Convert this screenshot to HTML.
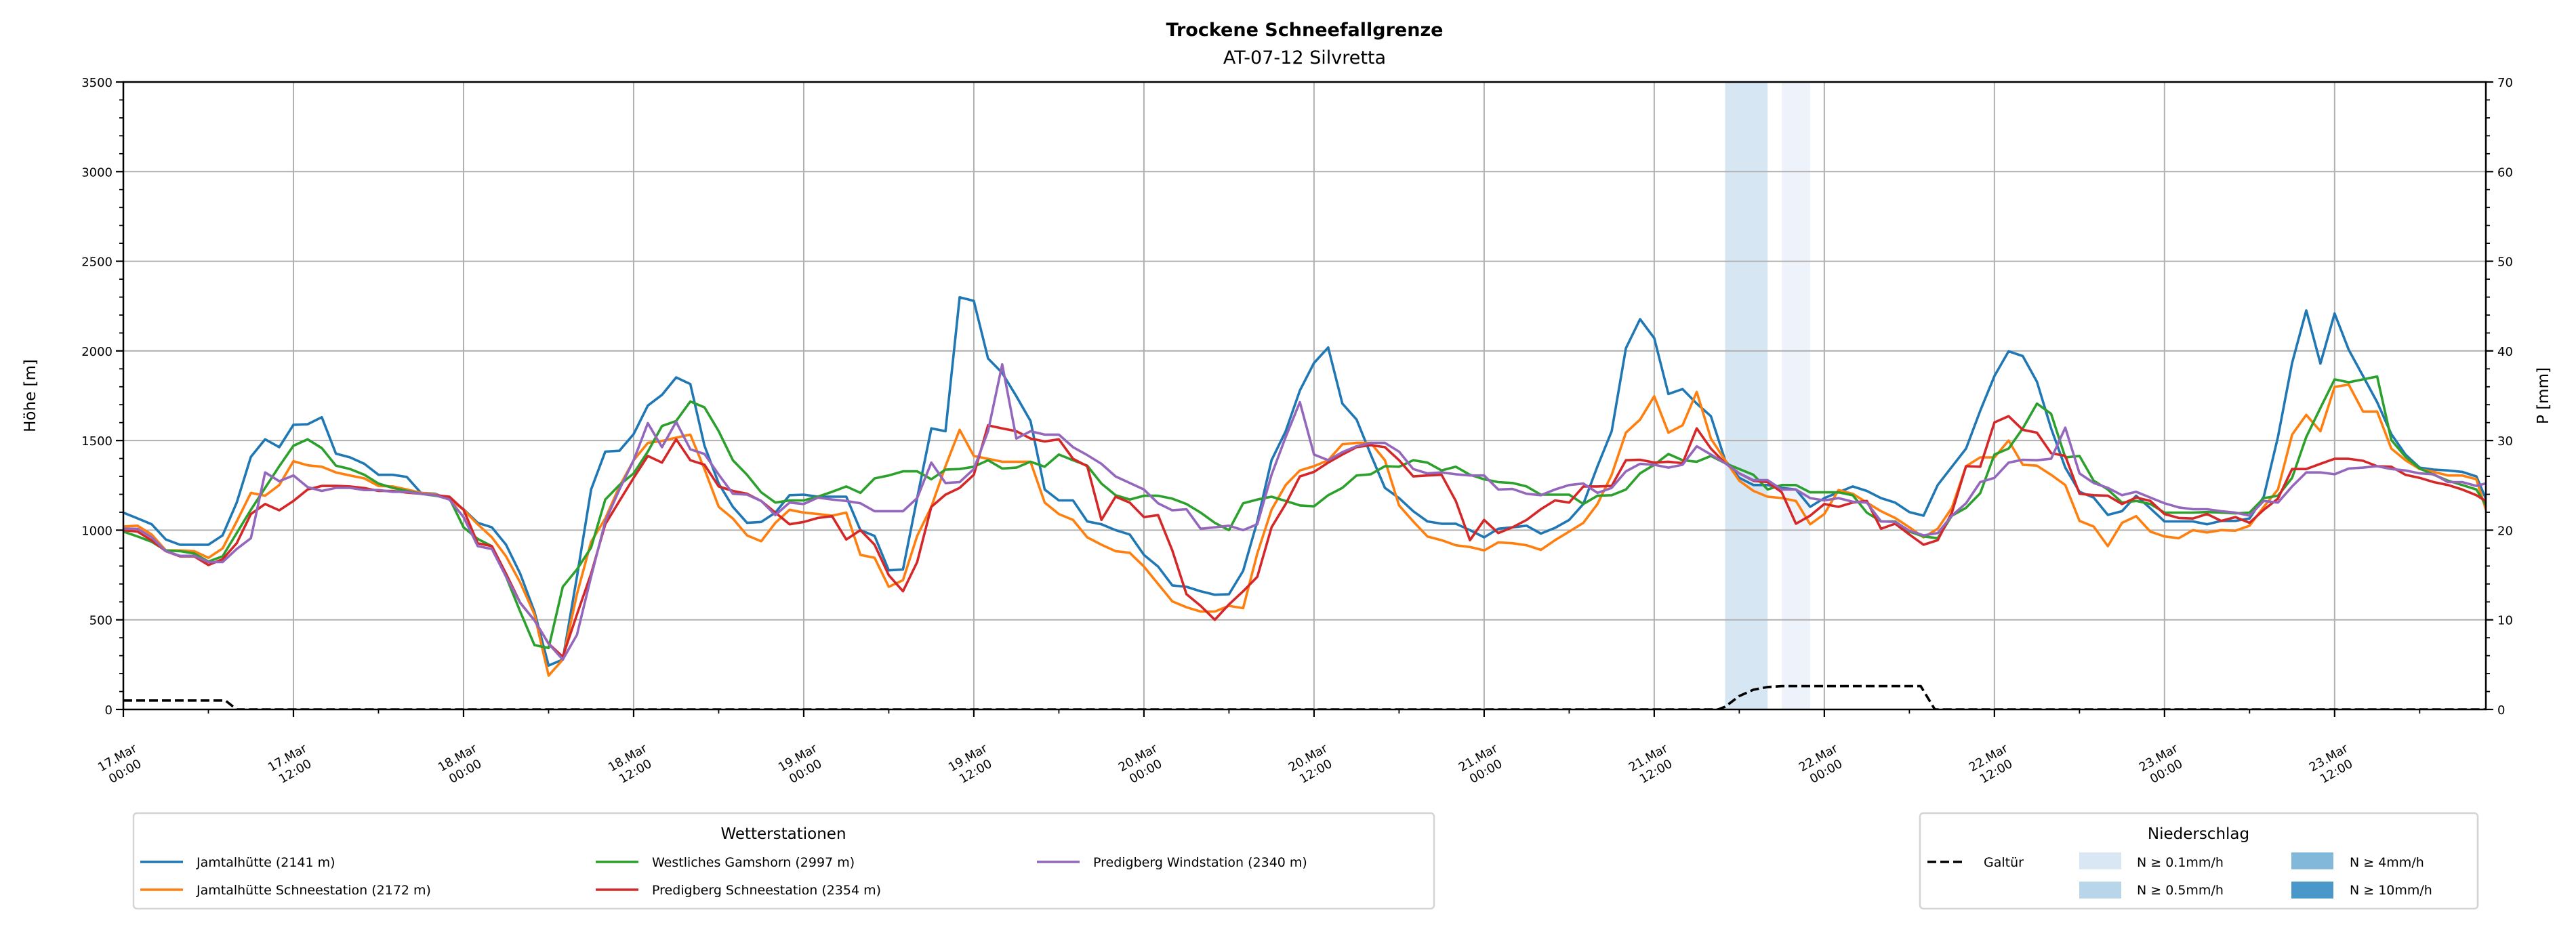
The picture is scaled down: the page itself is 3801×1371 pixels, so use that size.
<!DOCTYPE html>
<html><head><meta charset="utf-8"><style>
html,body{margin:0;padding:0;background:#fff;}
svg{display:block;font-family:"DejaVu Sans","Liberation Sans",sans-serif;}
</style></head><body>
<svg id="chart" width="3801" height="1371" viewBox="0 0 3801 1371" xmlns="http://www.w3.org/2000/svg">
<defs><clipPath id="plotclip"><rect x="182" y="121" width="3486" height="926"/></clipPath></defs>
<text x="1925" y="53" text-anchor="middle" font-size="27" font-weight="bold">Trockene Schneefallgrenze</text>
<text x="1925" y="94" text-anchor="middle" font-size="27">AT-07-12 Silvretta</text>
<g id="bands" clip-path="url(#plotclip)"></g>
<g id="grid"></g>
<g id="series" clip-path="url(#plotclip)"></g>
<g id="axes"></g>
<text transform="translate(52,584) rotate(-90)" text-anchor="middle" font-size="23">Höhe [m]</text>
<text transform="translate(3760,584) rotate(-90)" text-anchor="middle" font-size="23">P [mm]</text>
<g>
<rect x="197" y="1200" width="1919" height="141" rx="5" fill="#fff" stroke="#d4d4d4" stroke-width="2.5"/>
<text x="1156" y="1238" text-anchor="middle" font-size="23">Wetterstationen</text>
<g><line x1="207" y1="1272" x2="270" y2="1272" stroke="#1f77b4" stroke-width="3.6"/><text x="290" y="1279" font-size="19">Jamtalhütte (2141 m)</text></g>
<g><line x1="207" y1="1313" x2="270" y2="1313" stroke="#ff7f0e" stroke-width="3.6"/><text x="290" y="1320" font-size="19">Jamtalhütte Schneestation (2172 m)</text></g>
<g><line x1="879" y1="1272" x2="942" y2="1272" stroke="#2ca02c" stroke-width="3.6"/><text x="962" y="1279" font-size="19">Westliches Gamshorn (2997 m)</text></g>
<g><line x1="879" y1="1313" x2="942" y2="1313" stroke="#d62728" stroke-width="3.6"/><text x="962" y="1320" font-size="19">Predigberg Schneestation (2354 m)</text></g>
<g><line x1="1530" y1="1272" x2="1593" y2="1272" stroke="#9467bd" stroke-width="3.6"/><text x="1613" y="1279" font-size="19">Predigberg Windstation (2340 m)</text></g>
</g>
<g>
<rect x="2833" y="1200" width="823" height="141" rx="5" fill="#fff" stroke="#d4d4d4" stroke-width="2.5"/>
<text x="3244" y="1238" text-anchor="middle" font-size="23">Niederschlag</text>
<g><line x1="2844" y1="1272" x2="2900" y2="1272" stroke="#000" stroke-width="3.6" stroke-dasharray="13,6"/><text x="2927" y="1279" font-size="19">Galtür</text></g>
<g><rect x="3068" y="1258" width="62" height="25" fill="#d9e7f5"/><text x="3153" y="1279" font-size="19">N ≥ 0.1mm/h</text></g>
<g><rect x="3068" y="1301" width="62" height="25" fill="#b8d5ea"/><text x="3153" y="1320" font-size="19">N ≥ 0.5mm/h</text></g>
<g><rect x="3381" y="1258" width="62" height="25" fill="#82b9db"/><text x="3467" y="1279" font-size="19">N ≥ 4mm/h</text></g>
<g><rect x="3381" y="1301" width="62" height="25" fill="#4a98c9"/><text x="3467" y="1320" font-size="19">N ≥ 10mm/h</text></g>
</g>
</svg>
<script>
const jamtal=[1098,1066,1033,948,919,919,919,971,1154,1409,1507,1463,1588,1591,1630,1427,1406,1370,1309,1309,1297,1208,1203,1171,1117,1041,1016,919,757,546,245,278,740,1227,1438,1443,1536,1695,1755,1852,1815,1471,1260,1130,1041,1046,1098,1195,1198,1187,1187,1187,1000,968,776,781,1179,1568,1552,2299,2279,1958,1877,1747,1609,1227,1166,1166,1049,1033,1000,976,862,797,692,684,659,640,643,773,1049,1390,1552,1779,1933,2019,1706,1617,1422,1236,1179,1106,1049,1036,1036,1000,960,1008,1016,1025,981,1013,1057,1146,1357,1552,2015,2177,2071,1760,1787,1706,1636,1390,1292,1252,1252,1236,1227,1130,1179,1211,1244,1219,1179,1154,1101,1081,1252,1354,1455,1666,1860,1998,1971,1828,1568,1349,1214,1182,1085,1106,1192,1122,1049,1049,1049,1033,1052,1052,1065,1187,1520,1933,2226,1929,2209,2006,1860,1714,1536,1422,1349,1338,1333,1325,1300,1114];
const jamtalSchnee=[1020,1025,976,887,887,883,846,898,1049,1208,1192,1252,1385,1362,1354,1322,1305,1289,1247,1244,1227,1208,1200,1174,1114,1033,960,854,708,530,189,278,643,935,1065,1244,1390,1487,1498,1516,1533,1341,1130,1065,971,938,1041,1114,1098,1090,1081,1098,862,846,684,721,968,1130,1357,1560,1414,1398,1382,1382,1382,1154,1090,1057,960,919,883,874,797,700,603,570,546,546,578,565,870,1114,1252,1333,1357,1390,1479,1487,1487,1390,1138,1049,965,944,916,906,887,932,927,916,890,944,992,1041,1146,1309,1544,1617,1747,1544,1585,1771,1511,1390,1276,1219,1187,1179,1163,1033,1090,1224,1203,1154,1106,1068,1016,960,1008,1125,1357,1406,1406,1500,1365,1360,1309,1252,1052,1020,911,1041,1078,992,965,955,1000,987,1000,997,1025,1130,1227,1533,1643,1552,1799,1812,1662,1662,1455,1390,1341,1325,1305,1305,1284,1033];
const gamshorn=[992,965,935,887,883,870,825,854,984,1114,1236,1357,1471,1507,1458,1360,1341,1309,1260,1236,1219,1203,1192,1179,1016,951,911,741,546,359,343,684,781,903,1171,1252,1317,1438,1581,1609,1718,1685,1552,1390,1309,1211,1154,1166,1166,1187,1214,1244,1208,1289,1305,1328,1328,1284,1338,1341,1354,1390,1344,1349,1382,1354,1422,1390,1360,1260,1195,1171,1192,1192,1176,1146,1098,1041,1000,1150,1171,1187,1163,1138,1133,1195,1236,1305,1312,1357,1354,1390,1377,1333,1354,1309,1284,1268,1263,1244,1198,1198,1198,1146,1192,1195,1227,1317,1365,1425,1390,1382,1414,1374,1341,1309,1227,1252,1252,1211,1211,1211,1195,1098,1049,1049,992,965,955,1081,1125,1206,1422,1455,1568,1706,1649,1406,1414,1276,1227,1154,1163,1146,1098,1098,1098,1101,1098,1094,1098,1179,1192,1292,1520,1682,1841,1825,1841,1857,1503,1409,1344,1309,1276,1252,1227,1098];
const predigSchnee=[1000,992,943,883,854,854,806,838,927,1090,1146,1111,1163,1227,1247,1247,1244,1235,1219,1219,1210,1203,1195,1187,1114,927,911,757,595,497,367,294,530,757,1033,1163,1292,1414,1377,1507,1390,1365,1244,1219,1203,1163,1098,1033,1046,1068,1078,948,1000,919,749,659,822,1130,1198,1236,1309,1585,1568,1552,1511,1495,1507,1398,1357,1057,1187,1154,1073,1084,887,643,578,500,586,659,740,1016,1146,1300,1325,1377,1422,1463,1474,1463,1390,1300,1305,1309,1163,944,1057,984,1016,1057,1117,1166,1154,1244,1244,1247,1390,1393,1377,1382,1374,1568,1455,1374,1317,1276,1268,1211,1036,1081,1146,1130,1154,1163,1008,1036,976,919,944,1098,1357,1354,1601,1636,1560,1544,1430,1414,1203,1195,1192,1146,1182,1163,1090,1068,1065,1090,1052,1073,1041,1114,1176,1341,1341,1370,1398,1398,1387,1357,1354,1309,1292,1268,1252,1227,1195,1146];
const predigWind=[1008,1008,960,883,857,857,822,822,895,955,1322,1273,1305,1240,1219,1236,1236,1224,1224,1214,1214,1203,1195,1171,1073,911,895,741,595,497,367,278,416,741,1049,1227,1390,1597,1463,1604,1451,1425,1310,1203,1198,1163,1084,1154,1146,1182,1171,1163,1150,1106,1106,1106,1179,1377,1263,1268,1341,1552,1925,1511,1552,1533,1533,1463,1419,1370,1300,1263,1227,1150,1111,1117,1008,1016,1025,1000,1033,1309,1520,1714,1422,1390,1435,1468,1487,1487,1438,1341,1317,1322,1312,1305,1305,1227,1230,1203,1195,1227,1252,1260,1208,1236,1328,1370,1365,1349,1365,1468,1422,1374,1317,1279,1279,1227,1227,1179,1166,1179,1159,1154,1049,1046,997,971,984,1081,1150,1268,1292,1377,1393,1390,1398,1572,1317,1263,1236,1195,1214,1182,1150,1127,1117,1117,1106,1098,1081,1163,1154,1244,1322,1322,1312,1344,1349,1357,1341,1333,1317,1312,1268,1268,1247,1268];
const galtuerHours=[0,7.2,8,112.5,113,114,115,116,117,126.8,127.8,167];
const galtuerMm=[1.0,1.0,0,0,0.3,1.5,2.2,2.5,2.6,2.6,0,0];
const bandStart=[113,117];
const bandEnd=[116,119];
const bandColor=["#d7e6f3","#eef3fb"];
const xTickLabels=["17.Mar|00:00","17.Mar|12:00","18.Mar|00:00","18.Mar|12:00","19.Mar|00:00","19.Mar|12:00","20.Mar|00:00","20.Mar|12:00","21.Mar|00:00","21.Mar|12:00","22.Mar|00:00","22.Mar|12:00","23.Mar|00:00","23.Mar|12:00"];
const yTicks=[0,500,1000,1500,2000,2500,3000,3500];
const y2Ticks=[0,10,20,30,40,50,60,70];

const NS="http://www.w3.org/2000/svg";
const L=182,R=3668,T=121,B=1047,HMAX=166.67;
const x=h=>L+h*(R-L)/HMAX;
const y=v=>B-v*(B-T)/3500;
const y2=p=>B-p*(B-T)/70;
function mk(tag,attrs,parent){const e=document.createElementNS(NS,tag);for(const k in attrs)e.setAttribute(k,attrs[k]);parent.appendChild(e);return e;}

const bands=document.getElementById('bands');
bandStart.forEach((s,i)=>{
  const r=mk('rect',{x:x(s),y:T,width:x(bandEnd[i])-x(s),height:B-T,fill:bandColor[i]},bands);
  
  
});

const grid=document.getElementById('grid');
const axes=document.getElementById('axes');
xTickLabels.forEach((lab,i)=>{
  const px=x(i*12);
  const g=mk('line',{x1:px,y1:T,x2:px,y2:B,stroke:'#b0b0b0','stroke-width':2},grid);
  
  
  mk('line',{x1:px,y1:B,x2:px,y2:B+11,stroke:'#000','stroke-width':2.2},axes);
  const parts=lab.split('|');
  const t=mk('text',{transform:`translate(${px-4},1127) rotate(-30)`,'text-anchor':'middle','font-size':18},axes);
  
  
  mk('tspan',{x:0,y:-4},t).textContent=parts[0];
  mk('tspan',{x:0,y:19},t).textContent=parts[1];
});
for(let h=6;h<HMAX;h+=12){mk('line',{x1:x(h),y1:B,x2:x(h),y2:B+6,stroke:'#000','stroke-width':1.8},axes);}
yTicks.forEach(v=>{
  const py=y(v);
  if(v>0&&v<3500){const g=mk('line',{x1:L,y1:py,x2:R,y2:py,stroke:'#b0b0b0','stroke-width':2},grid);
  
  }
  mk('line',{x1:L-11,y1:py,x2:L,y2:py,stroke:'#000','stroke-width':2.2},axes);
  const t=mk('text',{x:L-16,y:py+7,'text-anchor':'end','font-size':18},axes);
  
  
  t.textContent=v;
});
for(let v=100;v<3500;v+=100){if(v%500)mk('line',{x1:L-6,y1:y(v),x2:L,y2:y(v),stroke:'#000','stroke-width':1.8},axes);}
y2Ticks.forEach(p=>{
  const py=y2(p);
  mk('line',{x1:R,y1:py,x2:R+11,y2:py,stroke:'#000','stroke-width':2.2},axes);
  const t=mk('text',{x:R+17,y:py+7,'text-anchor':'start','font-size':18},axes);
  
  
  t.textContent=p;
});
for(let p=2;p<70;p+=2){if(p%10)mk('line',{x1:R,y1:y2(p),x2:R+6,y2:y2(p),stroke:'#000','stroke-width':1.8},axes);}

const series=document.getElementById('series');
const defs=[[jamtal,'#1f77b4','jamtalhuette-line'],[jamtalSchnee,'#ff7f0e','jamtalhuette-schneestation-line'],[gamshorn,'#2ca02c','westliches-gamshorn-line'],[predigSchnee,'#d62728','predigberg-schneestation-line'],[predigWind,'#9467bd','predigberg-windstation-line']];
defs.forEach(d=>{
  const pts=d[0].map((v,i)=>x(i).toFixed(1)+','+y(v).toFixed(1)).join(' ');
  const pl=mk('polyline',{points:pts,fill:'none',stroke:d[1],'stroke-width':3.6,'stroke-linejoin':'round'},series);
  
  
});
const gp=galtuerHours.map((h,i)=>x(h).toFixed(1)+','+y2(galtuerMm[i]).toFixed(1)).join(' ');
const gl=mk('polyline',{points:gp,fill:'none',stroke:'#000','stroke-width':3.6,'stroke-dasharray':'13,6'},series);



const frame=mk('rect',{x:L,y:T,width:R-L,height:B-T,fill:'none',stroke:'#000','stroke-width':2.5},axes);


</script>
</body></html>
